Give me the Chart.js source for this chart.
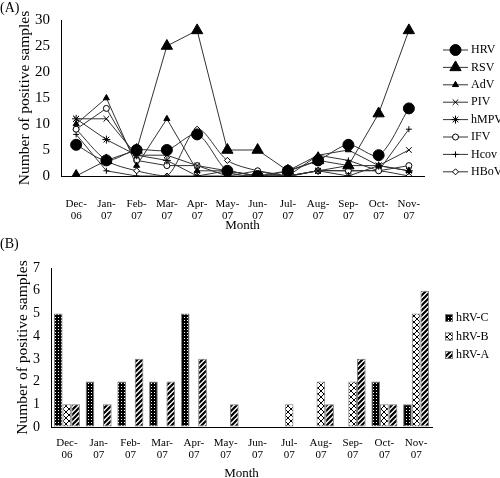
<!DOCTYPE html>
<html>
<head>
<meta charset="utf-8">
<script src="https://cdn.jsdelivr.net/npm/chart.js@4.4.1/dist/chart.umd.min.js"></script>
<style>
    body { margin: 0; width: 500px; height: 478px; background: #fff; position: relative; overflow: hidden; font-family: 'Liberation Serif', serif; }
    .wrap { position: absolute; left: 0; width: 500px; }
    #wrapA { top: 0; height: 232px; }
    #wrapB { top: 232px; height: 246px; }
    .tag { position: absolute; left: 0; font-size: 14px; line-height: 14px; }
</style>
</head>
<body>
<div class="wrap" id="wrapA"><canvas id="chartA" width="500" height="232"></canvas></div>
<div class="wrap" id="wrapB"><canvas id="chartB" width="500" height="246"></canvas></div>
<div class="tag" style="top:1px">(A)</div>
<div class="tag" style="top:237px">(B)</div>
<script>
    // months on both x axes
    var months = [['Dec-', '06'], ['Jan-', '07'], ['Feb-', '07'], ['Mar-', '07'], ['Apr-', '07'], ['May-', '07'],
                  ['Jun-', '07'], ['Jul-', '07'], ['Aug-', '07'], ['Sep-', '07'], ['Oct-', '07'], ['Nov-', '07']];

    // (A) positive samples per virus
    var HRV  = [6, 3, 5, 5, 8, 1, 0, 1, 3, 6, 4, 13];
    var RSV  = [0, 3, 5, 25, 28, 5, 5, 1, 3, 2, 12, 28];
    var AdV  = [10, 15, 2, 11, 1, 1, 0, 1, 4, 5, 2, 1];
    var PIV  = [11, 11, 4, 4, 2, 1, 0, 0, 1, 2, 2, 5];
    var hMPV = [11, 7, 4, 3, 0, 1, 0, 0, 1, 0, 2, 1];
    var IFV  = [9, 13, 3, 2, 2, 0, 1, 0, 1, 1, 1, 2];
    var Hcov = [8, 1, 0, 0, 0, 0, 0, 0, 4, 3, 1, 9];
    var HBoV = [9, 3, 1, 0, 9, 3, 1, 0, 1, 1, 1, 0];
    var ticksA = [0, 5, 10, 15, 20, 25, 30];

    // (B) hRV types
    var hrvC = [5, 2, 2, 2, 5, 0, 0, 0, 0, 0, 2, 1];
    var hrvB = [1, 0, 0, 0, 0, 0, 0, 1, 2, 2, 1, 5];
    var hrvA = [1, 1, 3, 2, 3, 1, 0, 0, 1, 3, 1, 6];
    var ticksB = [0, 1, 2, 3, 4, 5, 6, 7];

    var FONT = "'Liberation Serif', 'DejaVu Serif', serif";

    function makePattern(kind) {
        var c = document.createElement('canvas');
        var g = c.getContext('2d');
        if (kind == 'dots') {
            c.width = 3; c.height = 3;
            g.fillStyle = '#000'; g.fillRect(0, 0, 3, 3);
            g.fillStyle = '#fff'; g.fillRect(1, 1, 1, 1);
        } else if (kind == 'cross') {
            c.width = 6; c.height = 6;
            g.fillStyle = '#fff'; g.fillRect(0, 0, 6, 6);
            g.strokeStyle = '#000'; g.lineWidth = 1;
            g.beginPath();
            g.moveTo(0, 0); g.lineTo(6, 6);
            g.moveTo(6, 0); g.lineTo(0, 6);
            g.stroke();
        } else {
            c.width = 5; c.height = 5;
            g.fillStyle = '#fff'; g.fillRect(0, 0, 5, 5);
            g.strokeStyle = '#000'; g.lineWidth = 2.2;
            g.beginPath();
            g.moveTo(-1, 6); g.lineTo(6, -1);
            g.moveTo(-1, 1); g.lineTo(1, -1);
            g.moveTo(4, 6); g.lineTo(6, 4);
            g.stroke();
        }
        return g.createPattern(c, 'repeat');
    }

    function fixTicks(list) {
        return function(scale) { scale.ticks = list.map(function(v) { return { value: v }; }); };
    }

    function line(label, data, style, radius, filled, tension) {
        return {
            label: label, data: data,
            borderColor: '#333', borderWidth: 1, tension: tension || 0,
            pointStyle: style, pointRadius: radius,
            pointBackgroundColor: filled ? '#000' : '#fff',
            pointBorderColor: '#000', pointBorderWidth: 1
        };
    }

    var lineLegend = {
        id: 'lineLegend',
        afterDraw: function(chart) {
            var ctx = chart.ctx;
            ctx.save();
            chart.data.datasets.forEach(function(ds, i) {
                var x = 443, y = 50 + i * 17.4;
                ctx.strokeStyle = '#333'; ctx.lineWidth = 1;
                ctx.beginPath(); ctx.moveTo(x, y); ctx.lineTo(x + 25, y); ctx.stroke();
                ctx.fillStyle = ds.pointBackgroundColor; ctx.strokeStyle = ds.pointBorderColor;
                Chart.helpers.drawPoint(ctx, { pointStyle: ds.pointStyle, radius: ds.pointRadius, rotation: 0, borderWidth: 1 }, x + 12.5, y);
                ctx.fillStyle = '#000'; ctx.font = '12px ' + FONT; ctx.textBaseline = 'middle';
                ctx.fillText(ds.label, x + 28, y);
            });
            ctx.restore();
        }
    };

    var barLegend = {
        id: 'barLegend',
        afterDraw: function(chart) {
            var ctx = chart.ctx;
            ctx.save();
            chart.data.datasets.forEach(function(ds, i) {
                var x = 445, y = 86 + i * 18.5;
                ctx.fillStyle = ds.backgroundColor;
                ctx.fillRect(x, y - 4, 8, 8);
                ctx.strokeStyle = '#777'; ctx.lineWidth = 1;
                ctx.strokeRect(x + 0.5, y - 3.5, 7, 7);
                ctx.fillStyle = '#000'; ctx.font = '12px ' + FONT; ctx.textBaseline = 'middle';
                ctx.fillText(ds.label, x + 11, y);
            });
            ctx.restore();
        }
    };

    var axisBase = {
        grid: { display: true, drawOnChartArea: false, drawTicks: false },
        border: { display: true, color: '#000', width: 1 }
    };

    new Chart(document.getElementById('chartA').getContext('2d'), {
        type: 'line',
        data: {
            labels: months,
            datasets: [
                line('HRV', HRV, 'circle', 5.5, true, 0.3),
                line('RSV', RSV, 'triangle', 6.5, true),
                line('AdV', AdV, 'triangle', 3.5, true),
                line('PIV', PIV, 'crossRot', 4, false),
                line('hMPV', hMPV, 'star', 4, false),
                line('IFV', IFV, 'circle', 3, false),
                line('Hcov', Hcov, 'cross', 3, false),
                line('HBoV', HBoV, 'rectRot', 3, false, 0.3)
            ]
        },
        options: {
            responsive: false,
            animation: false,
            events: [],
            layout: { padding: { top: 20, right: 76, bottom: 0, left: 12 } },
            plugins: { legend: { display: false }, tooltip: { enabled: false } },
            scales: {
                x: Object.assign({}, axisBase, {
                    offset: true,
                    grid: { display: true, drawOnChartArea: false, drawTicks: false, offset: true },
                    ticks: { color: '#000', maxRotation: 0, autoSkip: false, padding: 22, font: { family: FONT, size: 11, lineHeight: 1.1 } },
                    title: { display: true, text: 'Month', color: '#000', padding: { top: 0, bottom: -1 }, font: { family: FONT, size: 13 } },
                    afterFit: function(s) { s.height = 56; }
                }),
                y: Object.assign({}, axisBase, {
                    min: 0, max: 30,
                    afterBuildTicks: fixTicks(ticksA),
                    ticks: { color: '#000', padding: 11, font: { family: FONT, size: 15 } },
                    title: { display: true, text: 'Number of positive samples', color: '#000', font: { family: FONT, size: 15.5 } },
                    afterFit: function(s) { s.width = 49; }
                })
            }
        },
        plugins: [lineLegend]
    });

    new Chart(document.getElementById('chartB').getContext('2d'), {
        type: 'bar',
        data: {
            labels: months,
            datasets: [
                { label: 'hRV-C', data: hrvC, backgroundColor: makePattern('dots') },
                { label: 'hRV-B', data: hrvB, backgroundColor: makePattern('cross') },
                { label: 'hRV-A', data: hrvA, backgroundColor: makePattern('stripes') }
            ]
        },
        options: {
            responsive: false,
            animation: false,
            events: [],
            datasets: { bar: { borderColor: '#777', borderWidth: 1, borderSkipped: false, categoryPercentage: 0.82, barPercentage: 1 } },
            layout: { padding: { top: 36, right: 68, bottom: 0, left: 10 } },
            plugins: { legend: { display: false }, tooltip: { enabled: false } },
            scales: {
                x: Object.assign({}, axisBase, {
                    grid: { display: true, drawOnChartArea: false, drawTicks: false, offset: true },
                    ticks: { color: '#000', maxRotation: 0, autoSkip: false, padding: 10, font: { family: FONT, size: 11, lineHeight: 1.1 } },
                    title: { display: true, text: 'Month', color: '#000', padding: { top: 0, bottom: -3 }, font: { family: FONT, size: 13 } },
                    afterFit: function(s) { s.height = 51; }
                }),
                y: Object.assign({}, axisBase, {
                    min: 0, max: 7,
                    afterBuildTicks: fixTicks(ticksB),
                    ticks: { color: '#000', padding: 11, font: { family: FONT, size: 14 } },
                    title: { display: true, text: 'Number of positive samples', color: '#000', font: { family: FONT, size: 15.5 } },
                    afterFit: function(s) { s.width = 41; }
                })
            }
        },
        plugins: [barLegend]
    });
</script>
</body>
</html>
